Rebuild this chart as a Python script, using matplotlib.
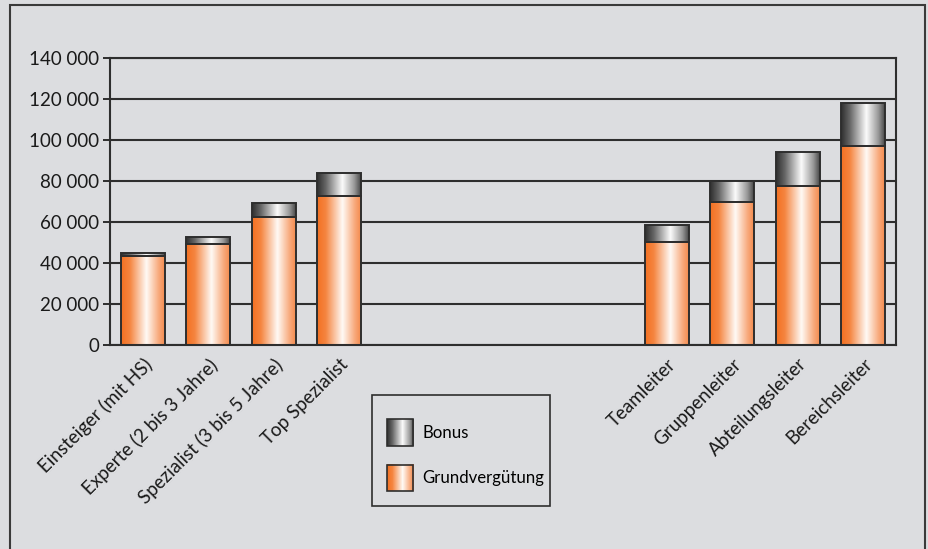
import numpy as np
import matplotlib
matplotlib.use("Agg")
import matplotlib.pyplot as plt
from matplotlib.patches import Rectangle
from matplotlib.colors import LinearSegmentedColormap
from matplotlib.legend_handler import HandlerBase
from matplotlib.image import BboxImage
from matplotlib.transforms import Bbox, TransformedBbox

# ---- data ----
categories = ["Einsteiger (mit HS)", "Experte (2 bis 3 Jahre)", "Spezialist (3 bis 5 Jahre)",
              "Top Spezialist", "Teamleiter", "Gruppenleiter", "Abteilungsleiter", "Bereichsleiter"]
grundverguetung = [43400, 49100, 62300, 72700, 50400, 69600, 77700, 97100]
bonus = [1300, 3600, 7000, 11200, 8100, 10400, 16600, 21100]
yticks = [0, 20000, 40000, 60000, 80000, 100000, 120000, 140000]
ytick_labels = ["0", "20 000", "40 000", "60 000", "80 000", "100 000", "120 000", "140 000"]
series_names = ["Bonus", "Grundvergütung"]

BG = "#dcdde0"
DARK = "#2e2e2e"
FS = 13.5
LFS = 12.1
plt.rcParams["font.family"] = ["Lato", "DejaVu Sans"]

orange_cmap = LinearSegmentedColormap.from_list(
    "og", [(0.0, "#f37021"), (0.2, "#f58540"), (0.58, "#fffaf5"), (0.85, "#f8ac80"), (1.0, "#f48a4c")])
gray_cmap = LinearSegmentedColormap.from_list(
    "gr", [(0.0, "#2e2e2e"), (0.2, "#666666"), (0.58, "#fbfbfb"), (0.85, "#999999"), (1.0, "#474747")])
grad = np.linspace(0, 1, 256).reshape(1, -1)

fig = plt.figure(figsize=(9.29, 5.49), dpi=100, facecolor=BG)
ax = fig.add_axes([110 / 929, 1 - 345 / 549, (896 - 110) / 929, (345 - 58) / 549])
ax.set_facecolor(BG)

pos = np.r_[np.arange(4), np.arange(8, 12)]
width = 0.67

bars_g = ax.bar(pos, grundverguetung, width, facecolor="none", edgecolor=DARK, linewidth=1.4, zorder=3)
bars_b = ax.bar(pos, bonus, width, bottom=grundverguetung, facecolor="none", edgecolor=DARK,
                linewidth=1.4, zorder=3)

def fill_gradient(bars, cmap):
    for b in bars:
        x0, y0 = b.get_x(), b.get_y()
        w, h = b.get_width(), b.get_height()
        im = ax.imshow(grad, cmap=cmap, aspect="auto", extent=(x0, x0 + w, y0, y0 + h),
                       interpolation="bilinear", zorder=2)
        im.set_clip_path(b)

fill_gradient(bars_g, orange_cmap)
fill_gradient(bars_b, gray_cmap)

ax.set_xlim(-0.5, 11.5)
ax.set_ylim(0, 140000)
ax.set_yticks(yticks, ytick_labels, fontsize=FS, color="#1a1a1a")
ax.set_xticks(pos, categories, fontsize=FS, color="#1a1a1a", rotation=45,
              ha="right", va="top", rotation_mode="anchor")
ax.tick_params(axis="y", length=5, width=1.4, color=DARK, pad=3)
ax.tick_params(axis="x", length=0, pad=7.5)
ax.yaxis.grid(True, color=DARK, linewidth=1.5, zorder=1)
ax.set_axisbelow(True)
for s in ["left", "right", "top", "bottom"]:
    ax.spines[s].set_color(DARK)
    ax.spines[s].set_linewidth(1.5)

class GradHandler(HandlerBase):
    def __init__(self, cmap):
        super().__init__()
        self.cmap = cmap

    def create_artists(self, legend, orig_handle, xdescent, ydescent, width, height, fontsize, trans):
        s = width
        x0 = -xdescent
        y0 = -ydescent + (height - s) / 2
        bb = TransformedBbox(Bbox.from_bounds(x0, y0, s, s), trans)
        img = BboxImage(bb, cmap=self.cmap, interpolation="bilinear")
        img.set_data(grad)
        rect = Rectangle((x0, y0), s, s, facecolor="none", edgecolor=DARK, linewidth=1.2, transform=trans)
        return [img, rect]

# legend box
box = Rectangle((372 / 929, 1 - 506 / 549), (550 - 372) / 929, (506 - 395) / 549, transform=fig.transFigure,
                facecolor=BG, edgecolor=DARK, linewidth=1.2, zorder=5)
fig.patches.append(box)

h1 = Rectangle((0, 0), 1, 1)
h2 = Rectangle((0, 0), 1, 1, facecolor="orange")
leg = fig.legend([h1, h2], series_names,
                 handler_map={h1: GradHandler(gray_cmap), h2: GradHandler(orange_cmap)},
                 loc="upper left", bbox_to_anchor=(387 / 929, 1 - 425 / 549),
                 frameon=False, fontsize=LFS, handlelength=1.55, handleheight=1.0, labelspacing=1.72,
                 borderpad=0, handletextpad=0.55, borderaxespad=0)
leg.set_zorder(6)

frame = Rectangle((10 / 929, -0.02), (925 - 10) / 929, 1 - 5 / 549 + 0.02, transform=fig.transFigure,
                  facecolor="none", edgecolor="#3a3a3a", linewidth=1.5, clip_on=False)
fig.patches.append(frame)

fig.savefig("out.png", dpi=100, facecolor=BG)
